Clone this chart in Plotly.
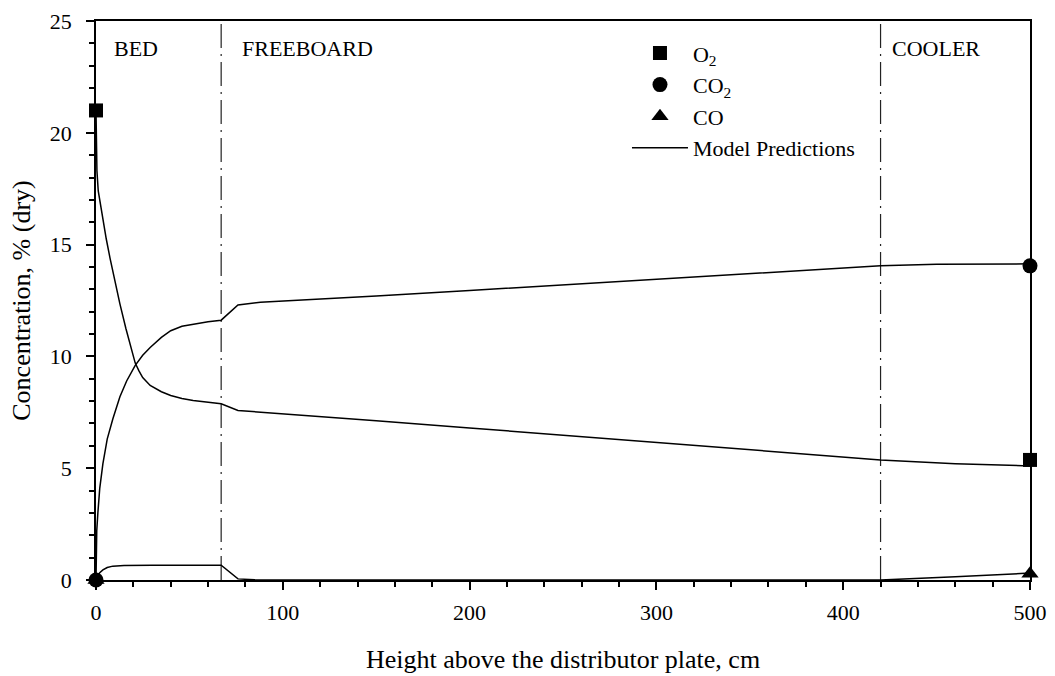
import plotly.graph_objects as go

# ---- data ----
o2_model_x = [0, 0.5, 1.2, 2.5, 4, 5.5, 7.5, 10, 12.8, 16, 18, 21, 23, 25, 29, 35, 40, 46, 52, 60, 67, 76,
              100, 150, 200, 250, 300, 350, 420, 460, 500]
o2_model_y = [21, 18.3, 17.4, 16.7, 15.95, 15.25, 14.4, 13.4, 12.35, 11.25, 10.6, 9.7, 9.35, 9.05, 8.7,
              8.42, 8.25, 8.12, 8.03, 7.96, 7.88, 7.58, 7.44, 7.12, 6.8, 6.47, 6.14, 5.82, 5.37, 5.2, 5.1]

co2_model_x = [0, 0.4, 1, 2, 3.7, 6, 9, 12.8, 16.4, 21, 25, 29, 35, 40, 46, 52, 60, 67, 76, 88,
               100, 150, 200, 250, 300, 350, 420, 450, 480, 500]
co2_model_y = [0, 2.2, 3.0, 4.1, 5.2, 6.3, 7.2, 8.2, 8.9, 9.6, 10.05, 10.4, 10.85, 11.15, 11.35, 11.45,
               11.55, 11.62, 12.3, 12.42, 12.47, 12.7, 12.95, 13.2, 13.45, 13.7, 14.05, 14.12, 14.14, 14.14]

co_model_x = [0, 1, 2, 3.7, 6, 9, 15, 30, 50, 67, 76, 85, 100, 200, 300, 420, 460, 500]
co_model_y = [0, 0.2, 0.33, 0.45, 0.56, 0.62, 0.65, 0.66, 0.66, 0.66, 0.05, 0.01, 0, 0, 0, 0, 0.14, 0.31]

o2_exp_x = [0, 500]
o2_exp_y = [21, 5.37]
co2_exp_x = [0, 500]
co2_exp_y = [0, 14.05]
co_exp_x = [0, 500]
co_exp_y = [0, 0.28]

zone_boundaries = [67, 420]
zone_labels = ["BED", "FREEBOARD", "COOLER"]
zone_label_x = [8.5, 77, 425]

FONT = "Liberation Serif, Times New Roman, serif"

fig = go.Figure()

line_style = dict(color="black", width=1.5)
fig.add_trace(go.Scatter(x=o2_exp_x, y=o2_exp_y, mode="markers", name="O<sub>2</sub>",
                         marker=dict(symbol="square", size=14, color="black"), cliponaxis=False))
fig.add_trace(go.Scatter(x=co2_exp_x, y=co2_exp_y, mode="markers", name="CO<sub>2</sub>",
                         marker=dict(symbol="circle", size=15, color="black"), cliponaxis=False))
fig.add_trace(go.Scatter(x=co_exp_x, y=co_exp_y, mode="markers", name="CO",
                         marker=dict(symbol="triangle-up", size=15, color="black"), cliponaxis=False))
fig.add_trace(go.Scatter(x=o2_model_x, y=o2_model_y, mode="lines", name="Model Predictions",
                         line=line_style, showlegend=True))
fig.add_trace(go.Scatter(x=co2_model_x, y=co2_model_y, mode="lines", line=line_style, showlegend=False))
fig.add_trace(go.Scatter(x=co_model_x, y=co_model_y, mode="lines", line=line_style, showlegend=False))

for xb in zone_boundaries:
    fig.add_shape(type="line", xref="x", yref="y", x0=xb, x1=xb, y0=0, y1=25,
                  line=dict(color="#222", width=1.2, dash="24px,6px,2px,6px"), layer="below")

for lab, lx in zip(zone_labels, zone_label_x):
    fig.add_annotation(x=lx, y=23.75, xref="x", yref="y", text=lab, showarrow=False,
                       xanchor="left", yanchor="middle", font=dict(family=FONT, size=22, color="black"))

axis_common = dict(showgrid=False, zeroline=False, showline=True, linecolor="black", linewidth=1.5,
                   mirror=True, ticks="outside", ticklen=8, tickwidth=1.5, tickcolor="black",
                   automargin=False,
                   tickfont=dict(family=FONT, size=22, color="black"))

fig.update_xaxes(range=[0, 500], dtick=100, tick0=0, ticklabelstandoff=4,
                 minor=dict(dtick=20, ticks="outside", ticklen=5, tickwidth=1.5, tickcolor="black"),
                 title=dict(text="Height above the distributor plate, cm",
                            font=dict(family=FONT, size=26, color="black"), standoff=26),
                 **axis_common)
fig.update_yaxes(range=[0, 25], dtick=5, tick0=0, ticklabelstandoff=10,
                 minor=dict(dtick=1, ticks="outside", ticklen=5, tickwidth=1.5, tickcolor="black"),
                 title=dict(text="Concentration, % (dry)",
                            font=dict(family=FONT, size=26, color="black"), standoff=12),
                 **axis_common)

fig.update_layout(
    width=1055, height=676,
    margin=dict(l=96, r=25, t=21, b=96, autoexpand=False),
    paper_bgcolor="white", plot_bgcolor="white",
    font=dict(family=FONT, color="black"),
    legend=dict(x=0.5685, y=0.98, xanchor="left", yanchor="top", bgcolor="rgba(0,0,0,0)",
                font=dict(family=FONT, size=22, color="black"), itemwidth=56,
                traceorder="normal", tracegroupgap=0),
)

fig.write_html("out.html")
